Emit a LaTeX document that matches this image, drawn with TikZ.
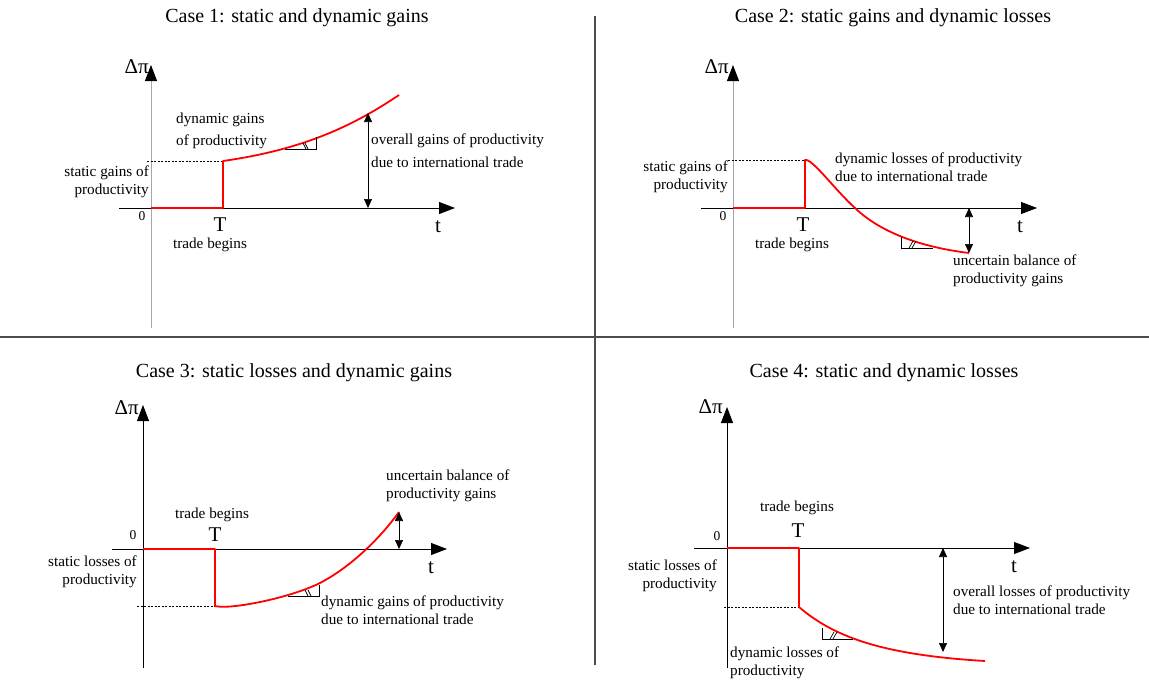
\documentclass[tikz,border=0pt]{standalone}
\usepackage{fontspec}
\setmainfont{Liberation Serif}
\usetikzlibrary{arrows.meta}

\tikzset{
  axis/.style={line width=0.8pt, -{Triangle[length=16pt,width=12pt]}},
  gaxis/.style={line width=0.8pt, gray!70, -{Triangle[length=16pt,width=12pt,color=black]}},
  trend/.style={red, line width=1.8pt, line join=round},
  guide/.style={line width=0.6pt, dash pattern=on 2pt off 1.5pt},
  gap/.style={line width=0.7pt, {Triangle[length=9pt,width=8pt]}-{Triangle[length=9pt,width=8pt]}},
  slope/.style={line width=0.7pt},
  lbl/.style={inner sep=0pt, font=\fontsize{15.2}{18}\selectfont},
  ttl/.style={inner sep=0pt, font=\fontsize{20}{22}\selectfont},
  sym/.style={inner sep=0pt, font=\fontsize{21}{23}\selectfont},
  zero/.style={inner sep=0pt, font=\fontsize{13.5}{15}\selectfont},
  divider/.style={line width=1.2pt, gray!60!black}
}

\begin{document}
\begin{tikzpicture}[x=1pt, y=-1pt]
  \useasboundingbox (0,0) rectangle (1149,680);

  % dividers
  \coordinate (vtop) at (595,16);
  \coordinate (vbot) at (595,665);
  \coordinate (hl) at (0,337);
  \coordinate (hr) at (1149,337);
  \draw[divider] (vtop) -- (vbot);
  \draw[divider] (hl) -- (hr);

  % case 1
  \node[ttl] (title1) at (297,18) {Case 1: static and dynamic gains};
  \coordinate (ya1) at (151,328);
  \coordinate (yb1) at (151,65);
  \coordinate (xa1) at (119,208);
  \coordinate (xb1) at (455,208);
  \draw[gaxis] (ya1) -- (yb1);
  \draw[axis] (xa1) -- (xb1);
  \node[sym, anchor=east] (dpi1) at (149,67) {Δπ};
  \node[zero] (zero1) at (142,216) {0};
  \node[sym] (T1) at (220,225) {T};
  \node[sym] (t1) at (438,227) {t};
  \node[lbl] (begin1) at (210,245) {trade begins};
  \node[lbl, anchor=east, align=right] (static1) at (149,182) {static gains of\\productivity};
  \node[lbl, anchor=west, align=left] (dyn1) at (176,131) {dynamic gains\\[4pt]of productivity};
  \node[lbl, anchor=west, align=left] (all1) at (371,151) {overall gains of productivity\\[5pt]due to international trade};
  \draw[guide] (147,161) -- (223,161);
  \draw[trend] (151,208) -- (223,208) -- (223,161)
      .. controls (300,150) and (350,128) .. (399,95);
  \draw[slope] (285,149) -- (316,149) -- (316,137);
  \draw[slope] (303,143) -- (306,149) (305,143) -- (308,149);
  \coordinate (ua1) at (368,113);
  \coordinate (ub1) at (368,208);
  \draw[gap] (ua1) -- (ub1);

  % case 2
  \node[ttl] (title2) at (893,18) {Case 2: static gains and dynamic losses};
  \coordinate (ya2) at (733,328);
  \coordinate (yb2) at (733,65);
  \coordinate (xa2) at (701,208);
  \coordinate (xb2) at (1037,208);
  \draw[gaxis] (ya2) -- (yb2);
  \draw[axis] (xa2) -- (xb2);
  \node[sym, anchor=east] (dpi2) at (729,67) {Δπ};
  \node[zero] (zero2) at (723,216) {0};
  \node[sym] (T2) at (803,225) {T};
  \node[sym] (t2) at (1020,227) {t};
  \node[lbl] (begin2) at (792,245) {trade begins};
  \node[lbl, anchor=east, align=right] (static2) at (728,177) {static gains of\\productivity};
  \node[lbl, anchor=west, align=left] (dyn2) at (835,167) {dynamic losses of productivity\\due to international trade};
  \node[lbl, anchor=west, align=left] (bal2) at (953,271) {uncertain balance of\\productivity gains};
  \draw[guide] (728,160) -- (805,160);
  \draw[trend] (733,208) -- (805,208) -- (805,160)
      .. controls (812,158) and (835,190) .. (855,208)
      .. controls (880,232) and (920,247) .. (969,253);
  \draw[slope] (901,237) -- (901,248) -- (933,248);
  \draw[slope] (909,248) -- (913,241) (912,248) -- (916,241);
  \coordinate (ua2) at (969,208);
  \coordinate (ub2) at (969,253);
  \draw[gap] (ua2) -- (ub2);

  % case 3
  \node[ttl] (title3) at (294,373) {Case 3: static losses and dynamic gains};
  \coordinate (ya3) at (143,668);
  \coordinate (yb3) at (143,405);
  \coordinate (xa3) at (112,549);
  \coordinate (xb3) at (447,549);
  \draw[axis] (ya3) -- (yb3);
  \draw[axis] (xa3) -- (xb3);
  \node[sym, anchor=east] (dpi3) at (139,408) {Δπ};
  \node[zero] (zero3) at (133,535) {0};
  \node[sym] (T3) at (215,535) {T};
  \node[sym] (t3) at (431,568) {t};
  \node[lbl] (begin3) at (212,515) {trade begins};
  \node[lbl, anchor=east, align=right] (static3) at (137,572) {static losses of\\productivity};
  \node[lbl, anchor=west, align=left] (dyn3) at (321,610) {dynamic gains of productivity\\due to international trade};
  \node[lbl, anchor=west, align=left] (bal3) at (386,486) {uncertain balance of\\productivity gains};
  \draw[guide] (137,606) -- (215,606);
  \draw[trend] (143,549) -- (215,549) -- (215,606)
      .. controls (230,610) and (290,598) .. (320,583)
      .. controls (345,570) and (375,545) .. (399,512);
  \draw[slope] (288,596) -- (319,596) -- (319,585);
  \draw[slope] (305,590) -- (308,596) (308,590) -- (311,596);
  \coordinate (ua3) at (399,512);
  \coordinate (ub3) at (399,549);
  \draw[gap] (ua3) -- (ub3);

  % case 4
  \node[ttl] (title4) at (884,373) {Case 4: static and dynamic losses};
  \coordinate (ya4) at (727,668);
  \coordinate (yb4) at (727,407);
  \coordinate (xa4) at (694,548);
  \coordinate (xb4) at (1030,548);
  \draw[axis] (ya4) -- (yb4);
  \draw[axis] (xa4) -- (xb4);
  \node[sym, anchor=east] (dpi4) at (723,407) {Δπ};
  \node[zero] (zero4) at (717,536) {0};
  \node[sym] (T4) at (798,531) {T};
  \node[sym] (t4) at (1014,567) {t};
  \node[lbl] (begin4) at (797,508) {trade begins};
  \node[lbl, anchor=east, align=right] (static4) at (717,576) {static losses of\\productivity};
  \node[lbl, anchor=west, align=left] (all4) at (953,600) {overall losses of productivity\\due to international trade};
  \node[lbl, anchor=west, align=left] (dyn4) at (730,663) {dynamic losses of\\productivity};
  \draw[guide] (724,607) -- (799,607);
  \draw[trend] (727,548) -- (799,548) -- (799,607)
      .. controls (835,638) and (885,655) .. (985,661);
  \draw[slope] (822,628) -- (822,639) -- (853,639);
  \draw[slope] (830,639) -- (834,632) (833,639) -- (837,632);
  \coordinate (ua4) at (943,548);
  \coordinate (ub4) at (943,652);
  \draw[gap] (ua4) -- (ub4);
\end{tikzpicture}
\end{document}
